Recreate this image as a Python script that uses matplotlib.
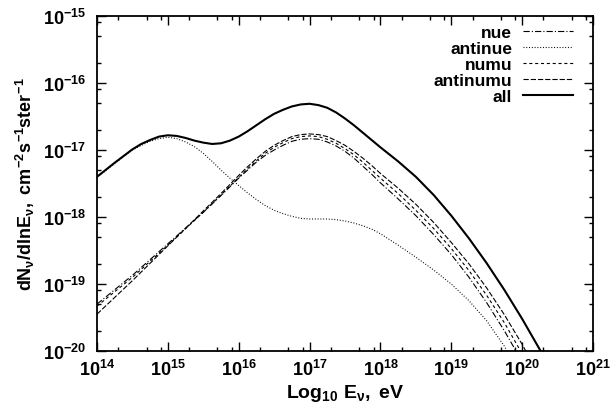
import numpy as np
import matplotlib
matplotlib.use('Agg')
import matplotlib.pyplot as plt
from matplotlib.ticker import FixedLocator, NullFormatter

plt.rcParams['font.family'] = ['Liberation Sans', 'DejaVu Sans']
plt.rcParams['font.weight'] = 'bold'
plt.rcParams['mathtext.fontset'] = 'custom'
plt.rcParams['mathtext.rm'] = 'Liberation Sans:bold'
plt.rcParams['mathtext.it'] = 'Liberation Sans:bold'
plt.rcParams['mathtext.bf'] = 'Liberation Sans:bold'
plt.rcParams['lines.scale_dashes'] = False

# log10 E [eV] and log10 dN/dlnE
all_x = [14.000, 14.250, 14.500, 14.625, 14.750, 14.875, 15.000, 15.125, 15.250,
         15.375, 15.500, 15.625, 15.750, 15.875, 16.000, 16.125, 16.250, 16.375,
         16.500, 16.625, 16.750, 16.875, 17.000, 17.125, 17.250, 17.375, 17.500,
         17.625, 17.750, 18.000, 18.250, 18.500, 18.750, 19.000, 19.250, 19.500,
         19.750, 20.000, 20.250, 20.500]
total = [-17.40, -17.19, -16.99, -16.91, -16.85, -16.80, -16.78, -16.79, -16.82,
         -16.86, -16.89, -16.91, -16.90, -16.86, -16.80, -16.72, -16.63, -16.54,
         -16.46, -16.40, -16.35, -16.32, -16.31, -16.33, -16.37, -16.44, -16.53,
         -16.63, -16.74, -16.96, -17.17, -17.40, -17.67, -17.98, -18.32, -18.69,
         -19.09, -19.52, -19.98, -20.46]

antinue_x = [14.000, 14.250, 14.500, 14.625, 14.750, 14.875, 15.000, 15.125, 15.250,
             15.375, 15.500, 15.625, 15.750, 15.875, 16.000, 16.125, 16.250, 16.375,
             16.500, 16.625, 16.750, 16.875, 17.000, 17.125, 17.250, 17.375, 17.500,
             17.625, 17.750, 17.875, 18.000, 18.250, 18.500, 18.750, 19.000, 19.250,
             19.500, 19.750, 20.000]
antinue = [-17.41, -17.20, -17.00, -16.93, -16.87, -16.83, -16.81, -16.83, -16.88,
           -16.95, -17.05, -17.17, -17.30, -17.42, -17.53, -17.64, -17.74, -17.83,
           -17.90, -17.95, -17.99, -18.02, -18.03, -18.03, -18.03, -18.04, -18.06,
           -18.09, -18.13, -18.18, -18.25, -18.42, -18.60, -18.79, -19.00, -19.25,
           -19.55, -19.93, -20.40]

nu_x = [14.000, 14.500, 15.000, 15.500, 15.750, 16.000, 16.125, 16.250, 16.375,
        16.500, 16.625, 16.750, 16.875, 17.000, 17.125, 17.250, 17.375, 17.500,
        17.625, 17.750, 17.875, 18.000, 18.250, 18.500, 18.750, 19.000, 19.250,
        19.500, 19.750, 20.000, 20.250]
nue = [-19.30, -18.87, -18.40, -17.93, -17.68, -17.42, -17.30, -17.18, -17.08,
       -17.00, -16.93, -16.87, -16.84, -16.83, -16.84, -16.88, -16.94, -17.02,
       -17.12, -17.24, -17.36, -17.49, -17.73, -17.98, -18.26, -18.56, -18.90,
       -19.28, -19.70, -20.16, -20.66]
numu = [-19.33, -18.90, -18.42, -17.93, -17.67, -17.41, -17.28, -17.16, -17.05,
        -16.96, -16.89, -16.83, -16.80, -16.79, -16.80, -16.84, -16.90, -16.98,
        -17.07, -17.18, -17.30, -17.42, -17.65, -17.90, -18.17, -18.47, -18.80,
        -19.17, -19.58, -20.04, -20.54]
antinumu = [-19.45, -18.95, -18.43, -17.91, -17.65, -17.38, -17.25, -17.13, -17.02,
            -16.93, -16.86, -16.80, -16.77, -16.76, -16.77, -16.80, -16.86, -16.93,
            -17.02, -17.12, -17.23, -17.35, -17.57, -17.81, -18.08, -18.38, -18.70,
            -19.06, -19.46, -19.90, -20.39]

x_exp = [14, 15, 16, 17, 18, 19, 20, 21]
y_exp = [-20, -19, -18, -17, -16, -15]

series = [
    ('nue', nu_x, nue, 0.8, (0, (4.5, 1.5, 0.8, 1.5))),
    ('antinue', antinue_x, antinue, 0.8, (0, (0.7, 1.3))),
    ('numu', nu_x, numu, 0.8, (0, (2.2, 2.0))),
    ('antinumu', nu_x, antinumu, 0.8, (0, (3.8, 1.4))),
    ('all', all_x, total, 1.5, '-'),
]

fig = plt.figure(figsize=(6.10, 4.14), dpi=100)
ax = fig.add_axes([97 / 610, 1 - 352 / 414, 496 / 610, 335 / 414])

for name, xs, vals, lw, ls in series:
    ax.plot(10.0 ** np.array(xs), 10.0 ** np.array(vals), color='black', lw=lw,
            linestyle=ls, label=name)

ax.set_xscale('log')
ax.set_yscale('log')
ax.set_xlim(1e14, 1e21)
ax.set_ylim(1e-20, 1e-15)

ax.set_xticks([10.0 ** k for k in x_exp])
ax.set_xticklabels([r'$10^{%d}$' % k for k in x_exp])
ax.set_yticks([10.0 ** k for k in y_exp])
ax.set_yticklabels([r'$10^{%d}$' % k for k in y_exp])
minor = [2, 5, 8]
ax.xaxis.set_minor_locator(FixedLocator([m * 10.0 ** k for k in x_exp[:-1] for m in minor]))
ax.yaxis.set_minor_locator(FixedLocator([m * 10.0 ** k for k in y_exp[:-1] for m in minor]))
ax.xaxis.set_minor_formatter(NullFormatter())
ax.yaxis.set_minor_formatter(NullFormatter())
ax.tick_params(which='both', direction='in', top=True, right=True, labelsize=13)
ax.tick_params(which='major', length=6.5, width=1.0)
ax.tick_params(which='minor', length=3.2, width=1.0)
ax.tick_params(axis='x', which='major', pad=6)
ax.tick_params(axis='y', which='major', pad=8)
for s in ax.spines.values():
    s.set_linewidth(1.3)

ax.set_xlabel(r'$Log_{10}\ E_{\nu},\ eV$', fontsize=14, labelpad=2)
ax.set_ylabel(r'$dN_{\nu}/dlnE_{\nu},\ cm^{-2}s^{-1}ster^{-1}$', fontsize=13, labelpad=4)

leg = ax.legend(loc='upper right', bbox_to_anchor=(476 / 496, (352 - 26) / 335),
                frameon=False, markerfirst=False, fontsize=12.5,
                handlelength=2.9, handletextpad=0.6, labelspacing=0.05,
                borderpad=0, borderaxespad=0)

fig.savefig('out.png', dpi=100)
